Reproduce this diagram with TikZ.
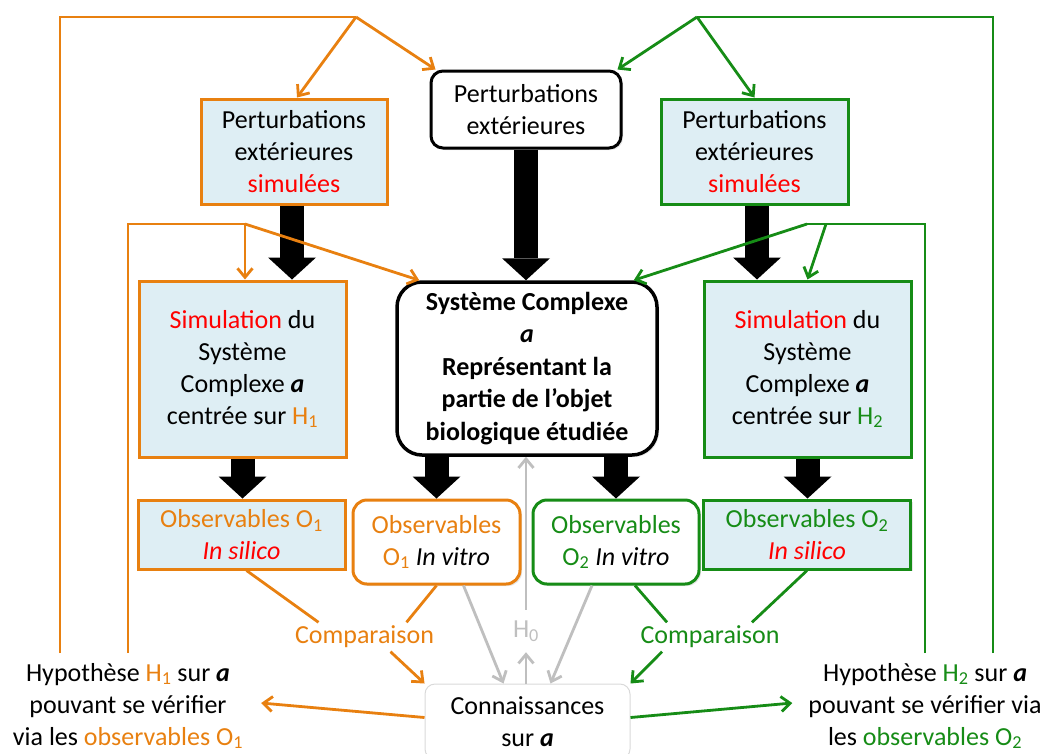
\documentclass[tikz,border=0pt]{standalone}
\usepackage{fontspec}
\setmainfont{Carlito}
\usepackage{tikz}
\usetikzlibrary{arrows.meta,shadows}
\definecolor{orH}{RGB}{232,128,16}
\definecolor{grH}{RGB}{22,140,22}
\definecolor{simfill}{RGB}{222,238,244}
\newcommand{\va}{\textbf{\textit{a}}}

\begin{document}
\begin{tikzpicture}[x=1pt,y=-1pt]
\tikzstyle{txt}=[font=\fontsize{26}{32}\selectfont, align=center, inner sep=0pt]
\tikzstyle{box}=[txt, draw, line width=3pt, drop shadow={shadow xshift=2pt, shadow yshift=-2pt, opacity=.2}]
\tikzstyle{simbox}=[box, fill=simfill]
\tikzstyle{bigarrow}=[line width=24pt, -{Triangle[width=48pt,length=22pt,line width=0pt]}]
\tikzstyle{orline}=[orH, line width=2.8pt]
\tikzstyle{grline}=[grH, line width=2.8pt]
\tikzstyle{orarrow}=[orline, -{Straight Barb[length=9pt,width=15pt]}]
\tikzstyle{grarrow}=[grline, -{Straight Barb[length=9pt,width=15pt]}]
\tikzstyle{h0arrow}=[gray!50, line width=2.8pt, -{Straight Barb[length=9pt,width=15pt]}]
\tikzstyle{cmp}=[txt, text height=18pt, text depth=6pt, inner sep=2.5pt]
\useasboundingbox (0,0) rectangle (1048,753);

% boites du haut
\node[simbox, draw=orH, minimum width=186pt, minimum height=105pt] (pertL) at (294,151.5) {Perturbations\\extérieures\\\textcolor{red}{simulées}};
\node[box, rounded corners=12pt, fill=white, minimum width=190pt, minimum height=77pt] (pertC) at (526,109.5) {Perturbations\\extérieures};
\node[simbox, draw=grH, minimum width=187pt, minimum height=105pt] (pertR) at (754.5,151.5) {Perturbations\\extérieures\\\textcolor{red}{simulées}};

% rangee du milieu
\node[simbox, draw=orH, minimum width=207pt, minimum height=176pt] (simL) at (242.5,369) {\textcolor{red}{Simulation} du\\Système\\Complexe \va\\centrée sur \textcolor{orH}{H\textsubscript{1}}};
\node[box, line width=3.5pt, rounded corners=25pt, fill=white, minimum width=260pt, minimum height=173pt, font=\fontsize{26}{32.5}\selectfont\bfseries] (sys) at (527,368.5) {Système Complexe\\\textit{a}\\Représentant la\\partie de l’objet\\biologique étudiée};
\node[simbox, draw=grH, minimum width=207pt, minimum height=176pt] (simR) at (807.5,369) {\textcolor{red}{Simulation} du\\Système\\Complexe \va\\centrée sur \textcolor{grH}{H\textsubscript{2}}};

% observables
\node[simbox, draw=orH, minimum width=207pt, minimum height=69pt] (obsS1) at (241.5,534.5) {\textcolor{orH}{Observables O\textsubscript{1}}\\\textcolor{red}{\textit{In silico}}};
\node[box, draw=orH, rounded corners=14pt, fill=white, minimum width=167pt, minimum height=84pt] (obsV1) at (436.5,542) {\textcolor{orH}{Observables}\\\textcolor{orH}{O\textsubscript{1}} \textit{In vitro}};
\node[box, draw=grH, rounded corners=14pt, fill=white, minimum width=166pt, minimum height=84pt] (obsV2) at (616,542) {\textcolor{grH}{Observables}\\\textcolor{grH}{O\textsubscript{2}} \textit{In vitro}};
\node[simbox, draw=grH, minimum width=207pt, minimum height=69pt] (obsS2) at (807,534.5) {\textcolor{grH}{Observables O\textsubscript{2}}\\\textcolor{red}{\textit{In silico}}};

% bas
\node[cmp, orH] (cmpL) at (364.5,637) {Comparaison};
\node[cmp, grH] (cmpR) at (710,637) {Comparaison};
\node[txt, gray!50, minimum height=42pt] (h0) at (526,631) {H\textsubscript{0}};
\node[txt, draw=gray!30, line width=1pt, rounded corners=10pt, fill=white, minimum width=205pt, minimum height=75pt] (conn) at (527.5,721.5) {Connaissances\\sur \va};
\node[txt] (hypL) at (128,706) {Hypothèse \textcolor{orH}{H\textsubscript{1}} sur \va\\pouvant se vérifier\\via les \textcolor{orH}{observables O\textsubscript{1}}};
\node[txt] (hypR) at (925,706) {Hypothèse \textcolor{grH}{H\textsubscript{2}} sur \va\\pouvant se vérifier via\\les \textcolor{grH}{observables O\textsubscript{2}}};

% points des boucles
\coordinate (oTop) at (356,17);
\coordinate (oCorn) at (60,17);
\coordinate (oEnd) at (60,653);
\coordinate (oIn) at (245,224);
\coordinate (oInCorn) at (128,224);
\coordinate (oInEnd) at (128,653);
\coordinate (gTop) at (697,17);
\coordinate (gCorn) at (993,17);
\coordinate (gEnd) at (993,653);
\coordinate (gIn) at (807,224);
\coordinate (gInSplit) at (826,224);
\coordinate (gInCorn) at (925,224);
\coordinate (gInEnd) at (925,653);

% grosses fleches
\draw[bigarrow] ([xshift=-2pt]pertL.south) -- ([xshift=-2pt]pertL.south |- simL.north); %
\draw[bigarrow] (pertC.south) -- (pertC.south |- sys.north); %
\draw[bigarrow] ([xshift=2.5pt]pertR.south) -- ([xshift=2.5pt]pertR.south |- simR.north); %
\draw[bigarrow] (simL.south) -- (simL.south |- obsS1.north); %
\draw[bigarrow] (obsV1.north |- sys.south) -- (obsV1.north); %
\draw[bigarrow] (obsV2.north |- sys.south) -- (obsV2.north); %
\draw[bigarrow] (simR.south) -- (simR.south |- obsS2.north); %

% boucle H1
\draw[orline] (oEnd) -- (oCorn) -- (oTop); %
\draw[orarrow] (oTop) -- ([xshift=3pt]pertL.north); %
\draw[orarrow] (oTop) -- ([xshift=6pt]pertC.north west); %
\draw[orline] (oInEnd) -- (oInCorn) -- (oIn); %
\draw[orarrow] (oIn) -- (oIn |- simL.north); %
\draw[orarrow] (oIn) -- ([xshift=24pt]sys.north west); %

% boucle H2
\draw[grline] (gEnd) -- (gCorn) -- (gTop); %
\draw[grarrow] (gTop) -- ([xshift=-5pt]pertC.north east); %
\draw[grarrow] (gTop) -- (pertR.north); %
\draw[grline] (gInEnd) -- (gInCorn) -- (gIn); %
\draw[grarrow] (gIn) -- ([xshift=-25pt]sys.north east); %
\draw[grarrow] (gInSplit) -- (simR.north); %

% comparaisons
\draw[orline] ([xshift=5pt]obsS1.south) -- ([xshift=-46pt]cmpL.north); %
\draw[orline] (obsV1.south) -- ([xshift=42pt]cmpL.north); %
\draw[orarrow] ([xshift=26pt]cmpL.south) -- (conn.north west); %
\draw[grline] ([xshift=19pt]obsV2.south) -- ([xshift=-43pt]cmpR.north); %
\draw[grline] (obsS2.south) -- ([xshift=42pt]cmpR.north); %
\draw[grarrow] ([xshift=-48pt]cmpR.south) -- (conn.north east); %

% H0
\draw[h0arrow] ([xshift=27pt]obsV1.south) -- ([xshift=-24pt]conn.north); %
\draw[h0arrow] ([xshift=-24pt]obsV2.south) -- ([xshift=23pt]conn.north); %
\draw[h0arrow] (h0.south |- conn.north) -- (h0.south); %
\draw[h0arrow] (h0.north) -- (h0.north |- sys.south); %

% vers les hypotheses
\draw[orarrow] ([yshift=4pt]conn.west) -- ([xshift=18pt,yshift=3pt]hypL.east); %
\draw[grarrow] ([yshift=4pt]conn.east) -- ([xshift=-16pt,yshift=3pt]hypR.west); %
\end{tikzpicture}
\end{document}
